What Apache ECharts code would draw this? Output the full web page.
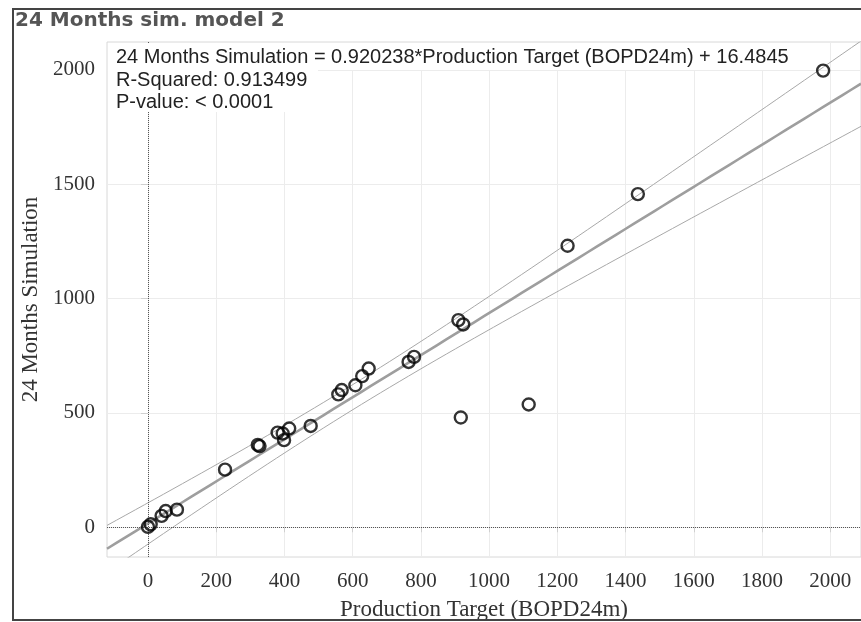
<!DOCTYPE html>
<html>
<head>
<meta charset="utf-8">
<script src="https://cdn.jsdelivr.net/npm/echarts@6/dist/echarts.min.js"></script>
<style>
html,body{margin:0;padding:0;background:#fff;}
#chart{width:861px;height:622px;}
</style>
</head>
<body>
<div id="chart"></div>
<script>
// ---- data ----
const productionTarget = [0, 8, 40, 52, 85, 226, 322, 327, 380, 395, 414, 399, 477, 558, 568, 608, 628, 647, 764, 780, 910, 924, 917, 1116, 1230, 1436, 1979];
const simulation24m    = [2, 13, 50, 71, 77, 252, 360, 355, 414, 410, 432, 381, 443, 581, 600, 621, 661, 694, 723, 745, 906, 887, 480, 537, 1231, 1457, 1997];
const trendSlope = 0.920238;
const trendIntercept = 16.4845;
const xTicks = [0, 200, 400, 600, 800, 1000, 1200, 1400, 1600, 1800, 2000];
const yTicks = [0, 500, 1000, 1500, 2000];
const xRange = [-120, 2090];
const yRange = [-130, 2122];
const titleText = '24 Months sim. model 2';
const annotationLines = [
  '24 Months Simulation = 0.920238*Production Target (BOPD24m) + 16.4845',
  'R-Squared: 0.913499',
  'P-value: < 0.0001'
];

// ---- trend line and 95% confidence band computed from the data ----
const n = productionTarget.length;
const xm = productionTarget.reduce((a, b) => a + b, 0) / n;
const sxx = productionTarget.reduce((a, x) => a + (x - xm) * (x - xm), 0);
const sse = productionTarget.reduce((a, x, i) => {
  const r = simulation24m[i] - (trendSlope * x + trendIntercept);
  return a + r * r;
}, 0);
const s = Math.sqrt(sse / (n - 2));
const tCrit = 2.06;
const steps = 80;
const trend = [], upper = [], lower = [];
for (let k = 0; k <= steps; k++) {
  const x = xRange[0] + (xRange[1] - xRange[0]) * k / steps;
  const yHat = trendSlope * x + trendIntercept;
  const hw = tCrit * s * Math.sqrt(1 / n + (x - xm) * (x - xm) / sxx);
  trend.push([x, yHat]);
  upper.push([x, yHat + hw]);
  lower.push([x, yHat - hw]);
}
const points = productionTarget.map((x, i) => [x, simulation24m[i]]);

const chart = echarts.init(document.getElementById('chart'), null, {renderer: 'canvas'});
const serif = 'Liberation Serif, Times New Roman, serif';
const sans = 'Liberation Sans, Arial, sans-serif';
const plain = v => String(v);

chart.setOption({
  animation: false,
  backgroundColor: '#fff',
  grid: {left: 107, right: 0, top: 42, bottom: 65, show: true, borderColor: '#d8d8d8', borderWidth: 1,
         backgroundColor: 'transparent', containLabel: false, outerBoundsMode: 'none'},
  xAxis: {
    type: 'value', min: xRange[0], max: xRange[1],
    axisLine: {show: false},
    axisTick: {show: true, customValues: xTicks, length: 5, lineStyle: {color: '#d0d0d0'}},
    axisLabel: {customValues: xTicks, formatter: plain, fontFamily: serif, fontSize: 21, color: '#333', margin: 14},
    splitLine: {show: true, lineStyle: {color: '#ececec', width: 1}},
    name: 'Production Target (BOPD24m)', nameLocation: 'middle', nameGap: 41,
    nameTextStyle: {fontFamily: serif, fontSize: 23, color: '#333'}
  },
  yAxis: {
    type: 'value', min: yRange[0], max: yRange[1],
    axisLine: {show: false},
    axisTick: {show: true, customValues: yTicks, length: 7, lineStyle: {color: '#d0d0d0'}},
    axisLabel: {customValues: yTicks, formatter: plain, fontFamily: serif, fontSize: 21, color: '#333', margin: 12},
    splitLine: {show: true, lineStyle: {color: '#ececec', width: 1}},
    name: '24 Months Simulation', nameLocation: 'middle', nameGap: 53,
    nameTextStyle: {fontFamily: serif, fontSize: 23, color: '#333'}
  },
  series: [
    {
      type: 'line', data: upper, showSymbol: false, silent: true, z: 2,
      lineStyle: {color: '#a8a8a8', width: 1},
      markLine: {
        silent: true, symbol: 'none', label: {show: false},
        lineStyle: {color: '#555', type: 'dotted', width: 1},
        data: [{xAxis: 0}, {yAxis: 0}]
      }
    },
    {type: 'line', data: lower, showSymbol: false, silent: true, z: 2, lineStyle: {color: '#a8a8a8', width: 1}},
    {type: 'line', data: trend, showSymbol: false, silent: true, z: 3, lineStyle: {color: '#9e9e9e', width: 2.6}},
    {
      type: 'scatter', data: points, symbol: 'circle', symbolSize: 12, z: 5,
      itemStyle: {color: 'rgba(0,0,0,0)', borderColor: '#000', borderWidth: 2.4}
    }
  ],
  graphic: [
    {type: 'rect', z: 100, shape: {x: 108, y: 43, width: 690, height: 27}, style: {fill: '#fff'}},
    {type: 'rect', z: 100, shape: {x: 108, y: 70, width: 210, height: 42}, style: {fill: '#fff'}},
    {type: 'text', z: 101, x: 116, y: 57, style: {text: annotationLines[0], font: '20px ' + sans, fill: '#222', verticalAlign: 'middle'}},
    {type: 'text', z: 101, x: 116, y: 80, style: {text: annotationLines[1], font: '20px ' + sans, fill: '#222', verticalAlign: 'middle'}},
    {type: 'text', z: 101, x: 116, y: 102, style: {text: annotationLines[2], font: '20px ' + sans, fill: '#222', verticalAlign: 'middle'}},
    {type: 'rect', z: 102, shape: {x: 13, y: 9, width: 900, height: 611}, style: {fill: 'none', stroke: '#444', lineWidth: 2}},
    {type: 'text', z: 103, x: 15, y: 21, style: {text: titleText, font: 'bold 20px DejaVu Sans, sans-serif', fill: '#555', verticalAlign: 'middle'}}
  ]
});
</script>
</body>
</html>
